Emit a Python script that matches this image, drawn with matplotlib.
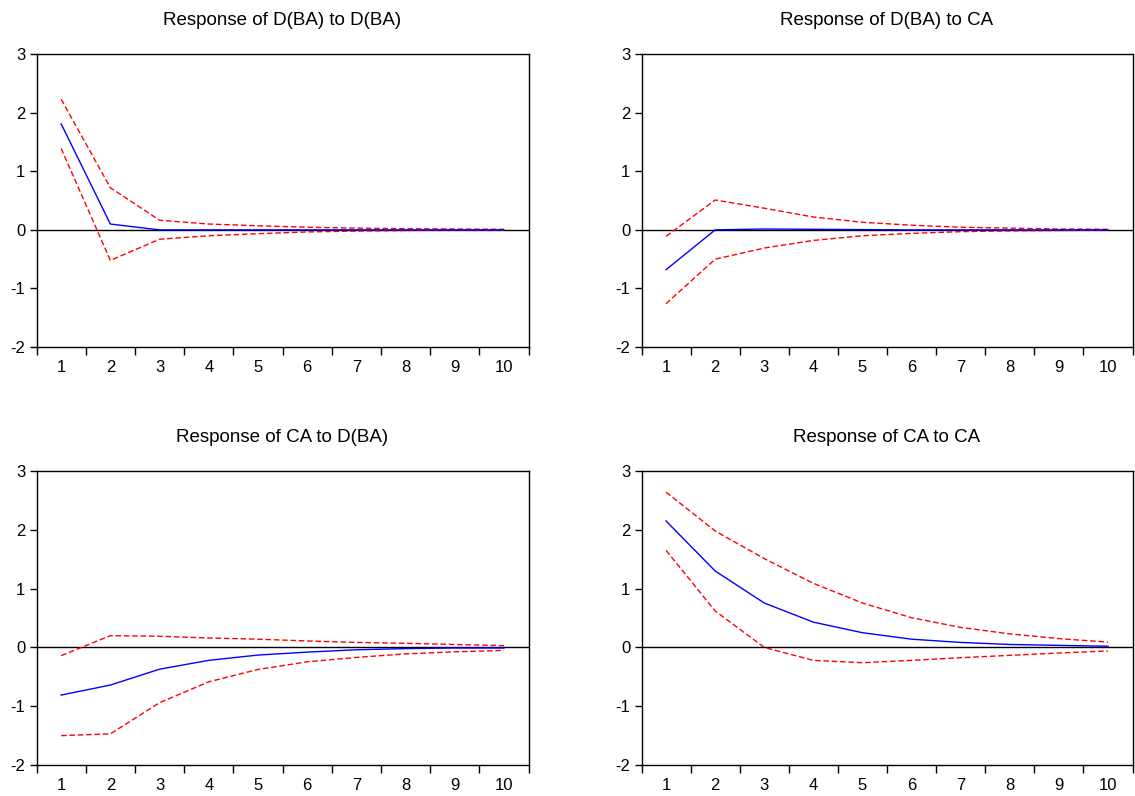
import matplotlib.pyplot as plt
import numpy as np

plt.rcParams['font.family'] = ['Liberation Sans', 'DejaVu Sans']
plt.rcParams['axes.unicode_minus'] = False  # plain hyphen like the original

periods = np.arange(1, 11)

titles = ["Response of D(BA) to D(BA)", "Response of D(BA) to CA",
          "Response of CA to D(BA)", "Response of CA to CA"]

# impulse responses (blue) and +/- 2 s.e. bands (red)
ba_ba = [1.81, 0.10, 0.0, 0.0, 0.0, 0.0, 0.0, 0.0, 0.0, 0.0]
ba_ba_up = [2.23, 0.72, 0.165, 0.10, 0.07, 0.045, 0.03, 0.02, 0.015, 0.01]
ba_ba_lo = [1.39, -0.52, -0.16, -0.10, -0.065, -0.035, -0.02, -0.01, -0.005, -0.005]

ba_ca = [-0.68, 0.0, 0.015, 0.01, 0.005, 0.0, 0.0, 0.0, 0.0, 0.0]
ba_ca_up = [-0.11, 0.51, 0.37, 0.22, 0.13, 0.08, 0.045, 0.03, 0.015, 0.01]
ba_ca_lo = [-1.26, -0.50, -0.31, -0.18, -0.10, -0.06, -0.03, -0.017, -0.01, -0.005]

ca_ba = [-0.81, -0.64, -0.37, -0.22, -0.13, -0.08, -0.04, -0.02, -0.01, -0.01]
ca_ba_up = [-0.14, 0.20, 0.19, 0.16, 0.14, 0.11, 0.085, 0.07, 0.05, 0.03]
ca_ba_lo = [-1.50, -1.47, -0.94, -0.585, -0.375, -0.245, -0.17, -0.11, -0.075, -0.05]

ca_ca = [2.15, 1.30, 0.755, 0.43, 0.25, 0.14, 0.085, 0.05, 0.035, 0.02]
ca_ca_up = [2.64, 1.98, 1.51, 1.09, 0.755, 0.505, 0.34, 0.23, 0.15, 0.09]
ca_ca_lo = [1.65, 0.62, 0.0, -0.22, -0.26, -0.22, -0.175, -0.135, -0.095, -0.06]

resp = [ba_ba, ba_ca, ca_ba, ca_ca]
upper = [ba_ba_up, ba_ca_up, ca_ba_up, ca_ca_up]
lower = [ba_ba_lo, ba_ca_lo, ca_ba_lo, ca_ca_lo]

fig = plt.figure(figsize=(11.35, 7.96), dpi=100)

# axes boxes in figure fractions: left, bottom, width, height
boxes = [[0.0322, 0.564, 0.4335, 0.368],
         [0.5652, 0.564, 0.4326, 0.368],
         [0.0322, 0.0389, 0.4335, 0.3694],
         [0.5652, 0.0389, 0.4326, 0.3694]]

for i in range(4):
    ax = fig.add_axes(boxes[i])
    ax.axhline(0, color="black", lw=1)
    ax.plot(periods, upper[i], color="red", ls=(0, (4, 2)), lw=1)
    ax.plot(periods, lower[i], color="red", ls=(0, (4, 2)), lw=1)
    ax.plot(periods, resp[i], color="blue", lw=1)

    ax.set_xlim(0.5, 10.5)
    ax.set_ylim(-2, 3)
    ax.set_yticks([-2, -1, 0, 1, 2, 3])
    ax.set_xticks(periods)
    ax.set_xticks(np.arange(0.5, 11, 1), minor=True)
    ax.tick_params(axis="x", which="major", length=0, pad=9, labelsize=12)
    ax.tick_params(axis="x", which="minor", length=6, width=1, direction="out")
    ax.tick_params(axis="y", length=5, width=1, direction="out", pad=3, labelsize=12)
    for s in ax.spines.values():
        s.set_linewidth(1)
    ax.set_title(titles[i], fontsize=13.5, pad=21)

fig.savefig("out.png", dpi=100)
